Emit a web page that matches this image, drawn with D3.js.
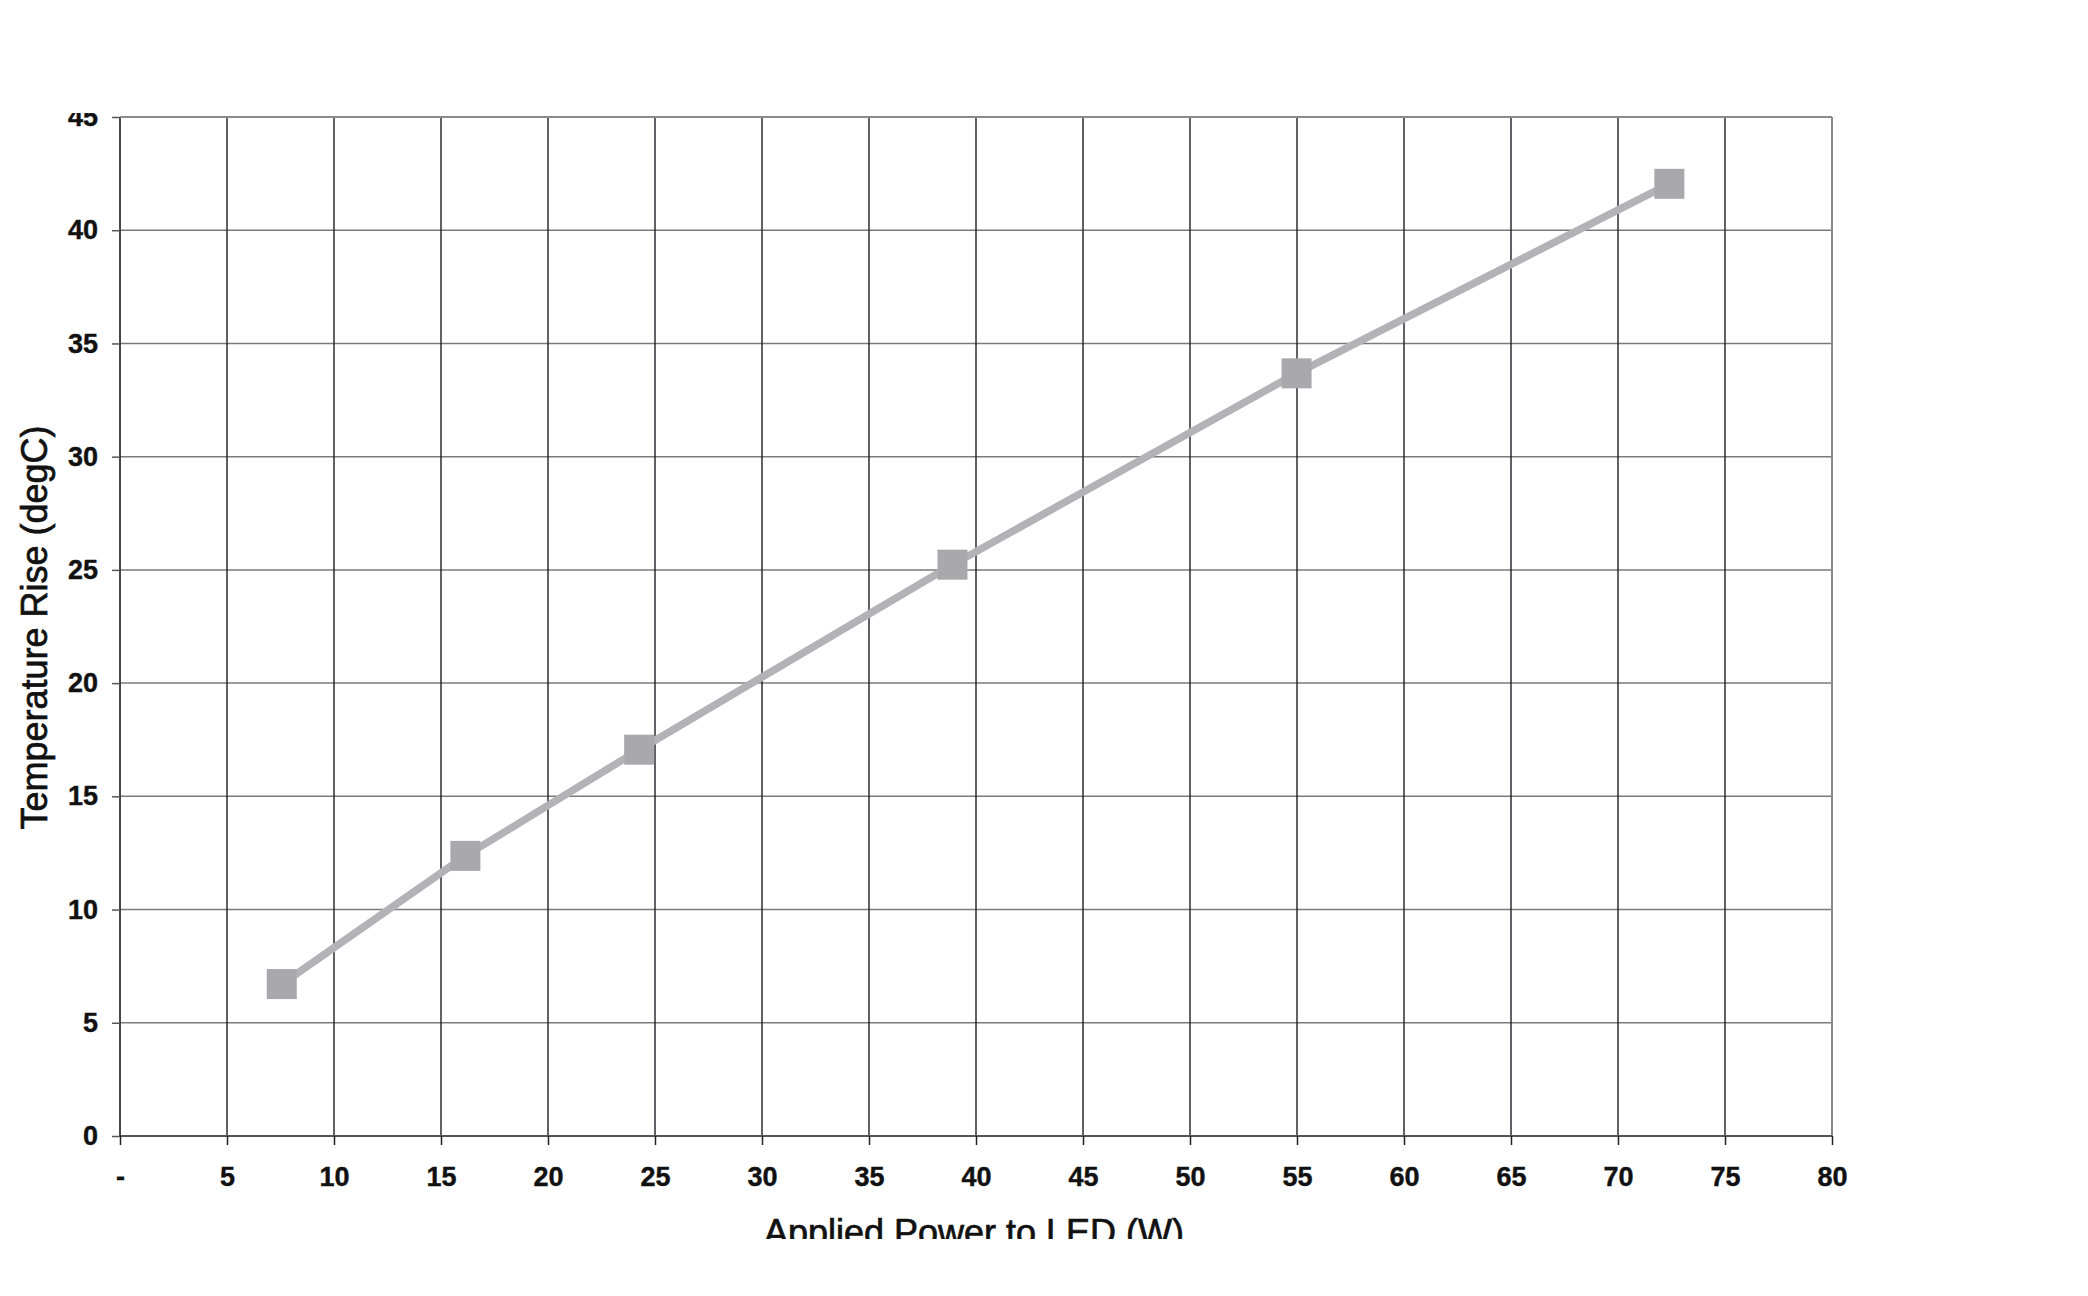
<!DOCTYPE html>
<html>
<head>
<meta charset="utf-8">
<script src="https://cdn.jsdelivr.net/npm/d3@7"></script>
<style>
  html, body { margin: 0; padding: 0; background: #ffffff; }
  svg { display: block; }
</style>
</head>
<body>
<svg id="chart" width="2088" height="1296"></svg>
<script>
// ---- data ----
const powerW = [7.56, 16.14, 24.26, 38.9, 54.98, 72.4];
const tempRise = [6.71, 12.37, 17.06, 25.23, 33.68, 42.05];
const xTicks = [0, 5, 10, 15, 20, 25, 30, 35, 40, 45, 50, 55, 60, 65, 70, 75, 80];
const yTicks = [0, 5, 10, 15, 20, 25, 30, 35, 40, 45];
const xTitle = "Applied Power to LED (W)";
const yTitle = "Temperature Rise (degC)";

// ---- layout ----
const W = 2088, H = 1296;
const plot = { left: 120, right: 1832, top: 117, bottom: 1136 };

const svg = d3.select("#chart");
const x = d3.scaleLinear().domain([0, 80]).range([plot.left, plot.right]);
const y = d3.scaleLinear().domain([0, 45]).range([plot.bottom, plot.top]);

// page clipping (scanned page edge at top and bottom)
const defs = svg.append("defs");
defs.append("clipPath").attr("id", "pageClip")
  .append("rect").attr("x", 0).attr("y", 113).attr("width", W).attr("height", 1239 - 113);

const root = svg.append("g").attr("clip-path", "url(#pageClip)");

// horizontal gridlines (gray)
root.append("g").selectAll("line")
  .data(yTicks.filter(d => d > 0))
  .join("line")
  .attr("x1", plot.left).attr("x2", plot.right)
  .attr("y1", d => y(d)).attr("y2", d => y(d))
  .attr("stroke", "#7a7a7a").attr("stroke-width", 1.5);

// vertical gridlines (dark)
root.append("g").selectAll("line")
  .data(xTicks.filter(d => d > 0 && d < 80))
  .join("line")
  .attr("x1", d => x(d)).attr("x2", d => x(d))
  .attr("y1", plot.top).attr("y2", plot.bottom)
  .attr("stroke", "#1e1e24").attr("stroke-width", 1.4);

// right border
root.append("line")
  .attr("x1", x(80)).attr("x2", x(80))
  .attr("y1", plot.top).attr("y2", plot.bottom)
  .attr("stroke", "#8a8a8a").attr("stroke-width", 2);

const fontFam = "'Liberation Sans', Arial, sans-serif";

// x axis
const xAxis = d3.axisBottom(x)
  .tickValues(xTicks)
  .tickSize(9)
  .tickPadding(22)
  .tickFormat(d => d === 0 ? "-" : d);
const gx = root.append("g")
  .attr("transform", `translate(0,${plot.bottom})`)
  .call(xAxis);
gx.select(".domain").attr("stroke", "#555").attr("stroke-width", 2)
  .attr("d", `M${plot.left},0H${plot.right}`);
gx.selectAll(".tick line").attr("stroke", "#222").attr("stroke-width", 1.5);
gx.selectAll(".tick text")
  .attr("fill", "#111")
  .attr("stroke", "#111").attr("stroke-width", 0.4)
  .style("font-family", fontFam)
  .style("font-size", "27px")
  .style("font-weight", "bold");

// y axis
const yAxis = d3.axisLeft(y)
  .tickValues(yTicks)
  .tickSize(8)
  .tickPadding(14)
  .tickFormat(d => d);
const gy = root.append("g")
  .attr("transform", `translate(${plot.left},0)`)
  .call(yAxis);
gy.select(".domain").attr("stroke", "#333").attr("stroke-width", 1.8)
  .attr("d", `M0,${plot.top}V${plot.bottom}`);
gy.selectAll(".tick line").attr("stroke", "#555").attr("stroke-width", 1.5);
gy.selectAll(".tick text")
  .attr("fill", "#111")
  .attr("stroke", "#111").attr("stroke-width", 0.4)
  .style("font-family", fontFam)
  .style("font-size", "27px")
  .style("font-weight", "bold");

// top border
root.append("line")
  .attr("x1", plot.left).attr("x2", plot.right)
  .attr("y1", plot.top).attr("y2", plot.top)
  .attr("stroke", "#8a8a8a").attr("stroke-width", 2);

// data line
const pts = powerW.map((p, i) => [p, tempRise[i]]);
const line = d3.line().x(d => x(d[0])).y(d => y(d[1]));
root.append("path")
  .datum(pts)
  .attr("d", line)
  .attr("fill", "none")
  .attr("stroke", "#b3b3b7")
  .attr("stroke-width", 7.5)
  .attr("stroke-linejoin", "round");

// markers
const ms = 30;
root.append("g").selectAll("rect")
  .data(pts)
  .join("rect")
  .attr("x", d => x(d[0]) - ms / 2)
  .attr("y", d => y(d[1]) - ms / 2)
  .attr("width", ms).attr("height", ms)
  .attr("fill", "#a9a8ad");

// axis titles
root.append("text")
  .attr("x", (x(0) + x(80)) / 2 - 2)
  .attr("y", 1245)
  .attr("text-anchor", "middle")
  .attr("fill", "#111")
  .attr("stroke", "#111").attr("stroke-width", 0.7)
  .style("font-family", fontFam)
  .style("font-size", "36px")
  .text(xTitle);

root.append("text")
  .attr("transform", `translate(47,${(y(0) + y(45)) / 2 + 1}) rotate(-90)`)
  .attr("text-anchor", "middle")
  .attr("fill", "#111")
  .attr("stroke", "#111").attr("stroke-width", 0.7)
  .style("font-family", fontFam)
  .style("font-size", "36px")
  .text(yTitle);
</script>
</body>
</html>
